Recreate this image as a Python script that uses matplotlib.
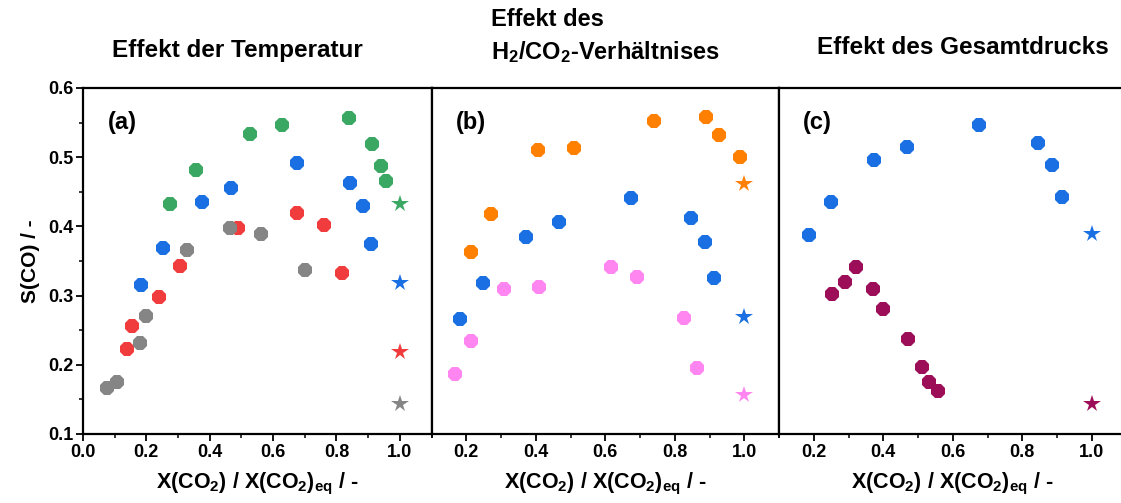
import numpy as np
import matplotlib
matplotlib.use("Agg")
import matplotlib.pyplot as plt
from matplotlib.ticker import MultipleLocator

plt.rcParams['font.family'] = ['Liberation Sans', 'DejaVu Sans']
plt.rcParams['font.weight'] = 'bold'
plt.rcParams['mathtext.fontset'] = 'custom'
plt.rcParams['mathtext.rm'] = 'Liberation Sans:bold'
plt.rcParams['mathtext.bf'] = 'Liberation Sans:bold'
plt.rcParams['mathtext.default'] = 'bf'

# ---- panel (a): Effekt der Temperatur ----
a_green_x = [0.276, 0.356, 0.526, 0.628, 0.840, 0.913, 0.942, 0.955]
a_green_y = [0.432, 0.482, 0.533, 0.546, 0.556, 0.519, 0.488, 0.466]
a_blue_x = [0.184, 0.253, 0.376, 0.468, 0.674, 0.844, 0.883, 0.909]
a_blue_y = [0.316, 0.369, 0.435, 0.456, 0.491, 0.462, 0.429, 0.375]
a_red_x = [0.138, 0.155, 0.240, 0.307, 0.489, 0.676, 0.761, 0.816]
a_red_y = [0.223, 0.256, 0.298, 0.343, 0.397, 0.420, 0.402, 0.333]
a_gray_x = [0.077, 0.108, 0.179, 0.198, 0.329, 0.465, 0.563, 0.700]
a_gray_y = [0.166, 0.175, 0.231, 0.271, 0.366, 0.397, 0.389, 0.337]
a_eq_y = [0.432, 0.318, 0.219, 0.143]   # green, blue, red, gray at X=1

# ---- panel (b): Effekt des H2/CO2-Verhaeltnisses ----
b_orange_x = [0.215, 0.270, 0.407, 0.509, 0.739, 0.890, 0.927, 0.987]
b_orange_y = [0.363, 0.418, 0.511, 0.514, 0.552, 0.558, 0.532, 0.501]
b_blue_x = [0.183, 0.248, 0.373, 0.468, 0.674, 0.848, 0.886, 0.913]
b_blue_y = [0.266, 0.318, 0.385, 0.406, 0.441, 0.412, 0.378, 0.325]
b_pink_x = [0.169, 0.214, 0.310, 0.410, 0.616, 0.691, 0.828, 0.865]
b_pink_y = [0.186, 0.235, 0.309, 0.312, 0.342, 0.327, 0.267, 0.196]
b_eq_y = [0.461, 0.269, 0.157]   # orange, blue, pink

# ---- panel (c): Effekt des Gesamtdrucks ----
c_blue_x = [0.185, 0.249, 0.374, 0.469, 0.675, 0.846, 0.885, 0.913]
c_blue_y = [0.388, 0.435, 0.496, 0.515, 0.547, 0.520, 0.489, 0.442]
c_maroon_x = [0.252, 0.290, 0.323, 0.370, 0.400, 0.471, 0.511, 0.533, 0.557]
c_maroon_y = [0.302, 0.320, 0.342, 0.310, 0.281, 0.237, 0.197, 0.175, 0.162]
c_eq_y = [0.389, 0.144]   # blue, maroon

GREEN = '#3aa862'
BLUE = '#1a6fe3'
RED = '#f03c3c'
GRAY = '#858585'
ORANGE = '#ff8000'
PINK = '#ff85f0'
MAROON = '#9c0f58'

fig = plt.figure(figsize=(11.21, 5.03), dpi=100)
W, H = 1121.0, 503.0
bottom = (H - 434) / H
height = (434 - 88) / H
ax_a = fig.add_axes([83 / W, bottom, 348.5 / W, height])
ax_b = fig.add_axes([431.5 / W, bottom, 347.5 / W, height])
ax_c = fig.add_axes([779 / W, bottom, 347.5 / W, height])


def dots(ax, xs, ys, color):
    ax.plot(xs, ys, linestyle='none', marker='8', markersize=11.5,
            color=color, markeredgewidth=0, zorder=3)


def star(ax, y, color):
    ax.plot([1.0], [y], linestyle='none', marker='*', markersize=13,
            color=color, markeredgewidth=0, zorder=3)


dots(ax_a, a_green_x, a_green_y, GREEN)
dots(ax_a, a_blue_x, a_blue_y, BLUE)
dots(ax_a, a_red_x, a_red_y, RED)
dots(ax_a, a_gray_x, a_gray_y, GRAY)
for y, c in zip(a_eq_y, [GREEN, BLUE, RED, GRAY]):
    star(ax_a, y, c)

dots(ax_b, b_orange_x, b_orange_y, ORANGE)
dots(ax_b, b_blue_x, b_blue_y, BLUE)
dots(ax_b, b_pink_x, b_pink_y, PINK)
for y, c in zip(b_eq_y, [ORANGE, BLUE, PINK]):
    star(ax_b, y, c)

dots(ax_c, c_blue_x, c_blue_y, BLUE)
dots(ax_c, c_maroon_x, c_maroon_y, MAROON)
for y, c in zip(c_eq_y, [BLUE, MAROON]):
    star(ax_c, y, c)

xlabel = r'X(CO$_2$) / X(CO$_2$)$_{eq}$ / -'
for ax, lab, x0 in [(ax_a, '(a)', 0.0), (ax_b, '(b)', 0.1), (ax_c, '(c)', 0.1)]:
    ax.set_xlim(x0, 1.1)
    ax.set_ylim(0.1, 0.6)
    ax.xaxis.set_minor_locator(MultipleLocator(0.1))
    ax.yaxis.set_major_locator(MultipleLocator(0.1))
    ax.yaxis.set_minor_locator(MultipleLocator(0.05))
    ax.tick_params(which='major', direction='out', length=5, width=1.3,
                   labelsize=13, pad=2)
    ax.tick_params(which='minor', direction='out', length=3, width=1.1)
    for s in ax.spines.values():
        s.set_linewidth(1.6)
    ax.set_xlabel(xlabel, fontsize=15.5, fontweight='bold', labelpad=7)
    ax.text(0.07, 0.9, lab, transform=ax.transAxes, fontsize=17,
            fontweight='bold', va='center')
    ticks = np.arange(0.0, 1.01, 0.2) if x0 == 0 else np.arange(0.2, 1.01, 0.2)
    ax.set_xticks(ticks)
    ax.set_xticklabels([f'{t:.1f}' for t in ticks])

for ax in (ax_b, ax_c):
    ax.tick_params(axis='y', which='both', left=False, labelleft=False)

ax_a.set_ylabel('S(CO) / -', fontsize=15, fontweight='bold', labelpad=6)

fig.text(237 / W, 1 - 50 / H, 'Effekt der Temperatur', fontsize=17.5,
         fontweight='bold', ha='center', va='center')
fig.text(491 / W, 1 - 20 / H, 'Effekt des', fontsize=17,
         fontweight='bold', ha='left', va='center')
fig.text(491 / W, 1 - 52 / H, 'H$_2$/CO$_2$-Verhältnises', fontsize=17,
         fontweight='bold', ha='left', va='center')
fig.text(963 / W, 1 - 47 / H, 'Effekt des Gesamtdrucks', fontsize=17.5,
         fontweight='bold', ha='center', va='center')

fig.savefig('out.png', dpi=100)
